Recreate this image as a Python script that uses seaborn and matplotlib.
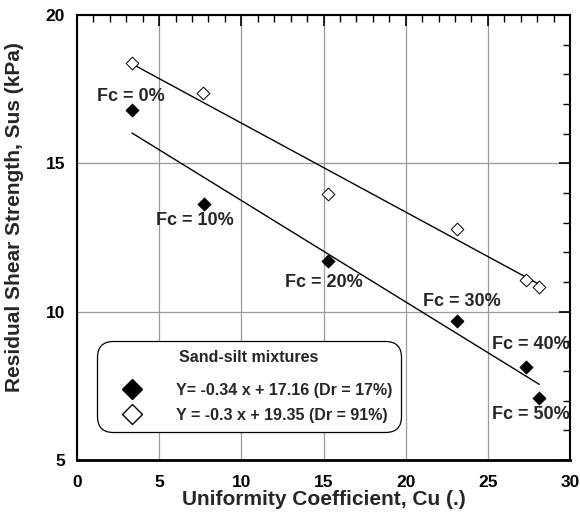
import numpy as np
import pandas as pd
import matplotlib
matplotlib.use("Agg")
import matplotlib.pyplot as plt
import seaborn as sns
from matplotlib.lines import Line2D

# ---- data ----
cu_loose = [3.35, 7.72, 15.27, 23.15, 27.32, 28.13]
sus_loose = [16.80, 13.62, 11.72, 9.70, 8.15, 7.08]
cu_dense = [3.35, 7.68, 15.26, 23.15, 27.32, 28.13]
sus_dense = [18.38, 17.38, 13.97, 12.79, 11.06, 10.84]

fit_x = [3.35, 28.13]
fit_loose = [16.02, 7.55]
fit_dense = [18.35, 10.92]

fc_labels = ["Fc = 0%", "Fc = 10%", "Fc = 20%", "Fc = 30%", "Fc = 40%", "Fc = 50%"]
fc_label_x = [3.3, 7.2, 15.0, 23.4, 27.6, 27.6]
fc_label_y = [17.24, 13.07, 10.97, 10.34, 8.90, 6.52]

legend_title = "Sand-silt mixtures"
legend_loose = "Y= -0.34 x + 17.16 (Dr = 17%)"
legend_dense = "Y = -0.3 x + 19.35 (Dr = 91%)"

x_ticks = [0, 5, 10, 15, 20, 25, 30]
y_ticks = [5, 10, 15, 20]

sns.set_style("white")
plt.rcParams["font.family"] = ["Liberation Sans", "DejaVu Sans"]
plt.rcParams["font.weight"] = "bold"

fig = plt.figure(figsize=(5.8, 5.13), dpi=100)
ax = fig.add_axes([0.1328, 0.1033, 0.85, 0.8675])

df_loose = pd.DataFrame({"cu": cu_loose, "sus": sus_loose})
df_dense = pd.DataFrame({"cu": cu_dense, "sus": sus_dense})
df_fit = pd.DataFrame({"x": fit_x * 2, "y": fit_loose + fit_dense,
                       "g": ["loose"] * 2 + ["dense"] * 2})

sns.lineplot(data=df_fit, x="x", y="y", units="g", estimator=None,
             color="black", lw=1.0, ax=ax, legend=False, zorder=3)
sns.scatterplot(data=df_loose, x="cu", y="sus", marker="D", s=42,
                color="black", edgecolor="black", linewidth=0.8, ax=ax, zorder=4)
sns.scatterplot(data=df_dense, x="cu", y="sus", marker="D", s=42,
                facecolor="white", edgecolor="black", linewidth=0.7, ax=ax, zorder=4)

for t, tx, ty in zip(fc_labels, fc_label_x, fc_label_y):
    ax.text(tx, ty, t, ha="center", va="center", fontsize=13, fontweight="bold", zorder=5)

ax.set_xlim(0, 30)
ax.set_ylim(5, 20)
ax.set_xticks(x_ticks)
ax.set_yticks(y_ticks)
ax.set_xticks(np.arange(0, 31, 1), minor=True)
ax.set_yticks(np.arange(5, 21, 1), minor=True)
ax.grid(True, which="major", color="#9a9a9a", lw=0.9)
ax.set_axisbelow(True)
ax.tick_params(which="both", direction="in", top=True, right=True, colors="black")
ax.tick_params(which="major", length=8, width=1.2, labelsize=12.5)
ax.tick_params(which="minor", length=5, width=1.0)
ax.tick_params(axis="x", which="major", pad=11)
ax.tick_params(axis="y", which="major", pad=8.5)
for lab in ax.get_xticklabels() + ax.get_yticklabels():
    lab.set_fontweight("bold")
for sp in ax.spines.values():
    sp.set_color("black")
    sp.set_linewidth(1.5)
ax.spines["bottom"].set_linewidth(2.0)

ax.set_xlabel("Uniformity Coefficient, Cu (.)", fontsize=15, fontweight="bold", labelpad=0)
ax.set_ylabel("Residual Shear Strength, Sus (kPa)", fontsize=15, fontweight="bold")
ax.yaxis.set_label_coords(-0.108, 0.546)

handles = [
    Line2D([], [], marker="D", ls="none", color="black", markersize=10),
    Line2D([], [], marker="D", ls="none", markerfacecolor="white",
           markeredgecolor="black", markersize=10),
]
leg = ax.legend(handles, [legend_loose, legend_dense], title=legend_title,
                loc="lower left", bbox_to_anchor=(0.04, 0.0636),
                prop={"weight": "bold", "size": 11.5},
                title_fontproperties={"weight": "bold", "size": 11.5},
                frameon=True, fancybox=True, framealpha=1, edgecolor="black",
                handletextpad=1.1, borderpad=0.55, labelspacing=0.65,
                handlelength=3.3, borderaxespad=0)
leg.get_frame().set_linewidth(0.9)
leg.get_frame().set_boxstyle("round,pad=0.0,rounding_size=1.0")
leg._legend_box.sep = 12.5
leg.set_zorder(6)

fig.savefig("out.png", dpi=100)
